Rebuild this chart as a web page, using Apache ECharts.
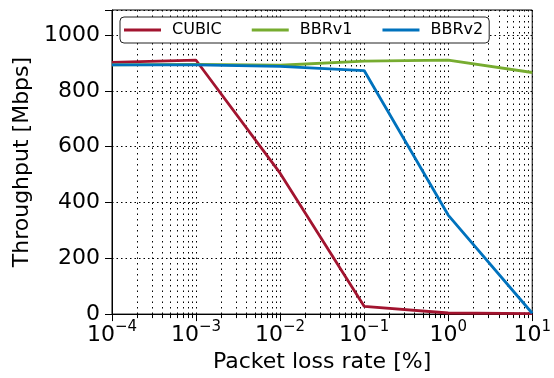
<!DOCTYPE html>
<html>
<head>
<meta charset="utf-8">
<script src="https://cdn.jsdelivr.net/npm/echarts@6/dist/echarts.min.js"></script>
<style>html,body{margin:0;padding:0;background:#fff}#c{width:554px;height:378px}</style>
</head>
<body>
<div id="c"></div>
<script>
const lossRates = [1e-4, 1e-3, 1e-2, 1e-1, 1, 10];
const cubic = [902, 910, 505, 28, 4, 2];
const bbrv1 = [893, 895, 892, 907, 910, 866];
const bbrv2 = [893, 893, 888, 873, 355, 3];
const seriesNames = ['CUBIC', 'BBRv1', 'BBRv2'];
const seriesColors = ['#A2142F', '#77AC30', '#0072BD'];
const yTicks = [0, 200, 400, 600, 800, 1000];

const FONT = 'DejaVu Sans';
const chart = echarts.init(document.getElementById('c'));
const pair = arr => lossRates.map((x, i) => [x, arr[i]]);
const vDots = { color: '#000', width: 1, type: [1.5, 4] };
const hDots = { color: '#000', width: 1, type: [1.5, 3] };

chart.setOption({
  animation: false,
  grid: { left: 112, right: 18, top: 10, bottom: 62, show: true, borderColor: '#000', borderWidth: 1, backgroundColor: 'transparent' },
  legend: {
    left: 120, top: 17, padding: [5, 6, 5, 4],
    itemGap: 30, itemWidth: 37, itemHeight: 3, icon: 'rect',
    borderColor: '#222', borderWidth: 1, borderRadius: 4, backgroundColor: '#fff',
    textStyle: { fontFamily: FONT, fontSize: 16, color: '#000', padding: [0, 0, 0, 6] },
    data: seriesNames
  },
  xAxis: {
    type: 'log', logBase: 10, min: 1e-4, max: 10,
    name: 'Packet loss rate [%]', nameLocation: 'middle', nameGap: 36,
    nameTextStyle: { fontFamily: FONT, fontSize: 22, color: '#000' },
    axisLine: { onZero: false, lineStyle: { color: '#000', width: 1 } },
    axisTick: { show: true, inside: false, length: 7, lineStyle: { color: '#000', width: 1 } },
    minorTick: { show: true, splitNumber: 9, length: 4, lineStyle: { color: '#000', width: 1 } },
    splitLine: { show: true, lineStyle: vDots },
    minorSplitLine: { show: true, lineStyle: vDots },
    axisLabel: {
      margin: 6,
      formatter: v => { const e = Math.round(Math.log10(v)); return '{b|10}{s|' + (e < 0 ? '\u2212' : '') + Math.abs(e) + '}'; },
      rich: {
        b: { fontFamily: FONT, fontSize: 22, color: '#000', lineHeight: 26, verticalAlign: 'bottom' },
        s: { fontFamily: FONT, fontSize: 15, color: '#000', lineHeight: 15, verticalAlign: 'top' }
      }
    }
  },
  yAxis: {
    type: 'value', min: 0, max: 1090, interval: 200,
    name: 'Throughput [Mbps]', nameLocation: 'middle', nameGap: 76,
    nameTextStyle: { fontFamily: FONT, fontSize: 22, color: '#000' },
    axisLine: { show: true, lineStyle: { color: '#000', width: 1 } },
    axisTick: { show: true, inside: false, length: 7, lineStyle: { color: '#000', width: 1 } },
    splitLine: { show: true, lineStyle: hDots },
    axisLabel: {
      margin: 12, fontFamily: FONT, fontSize: 22, color: '#000',
      formatter: v => (yTicks.indexOf(v) >= 0 ? String(v) : '')
    }
  },
  series: [cubic, bbrv1, bbrv2].map((arr, i) => ({
    name: seriesNames[i], type: 'line', data: pair(arr),
    symbol: 'none', color: seriesColors[i],
    lineStyle: { width: 2.8, color: seriesColors[i] }
  }))
});
</script>
</body>
</html>
